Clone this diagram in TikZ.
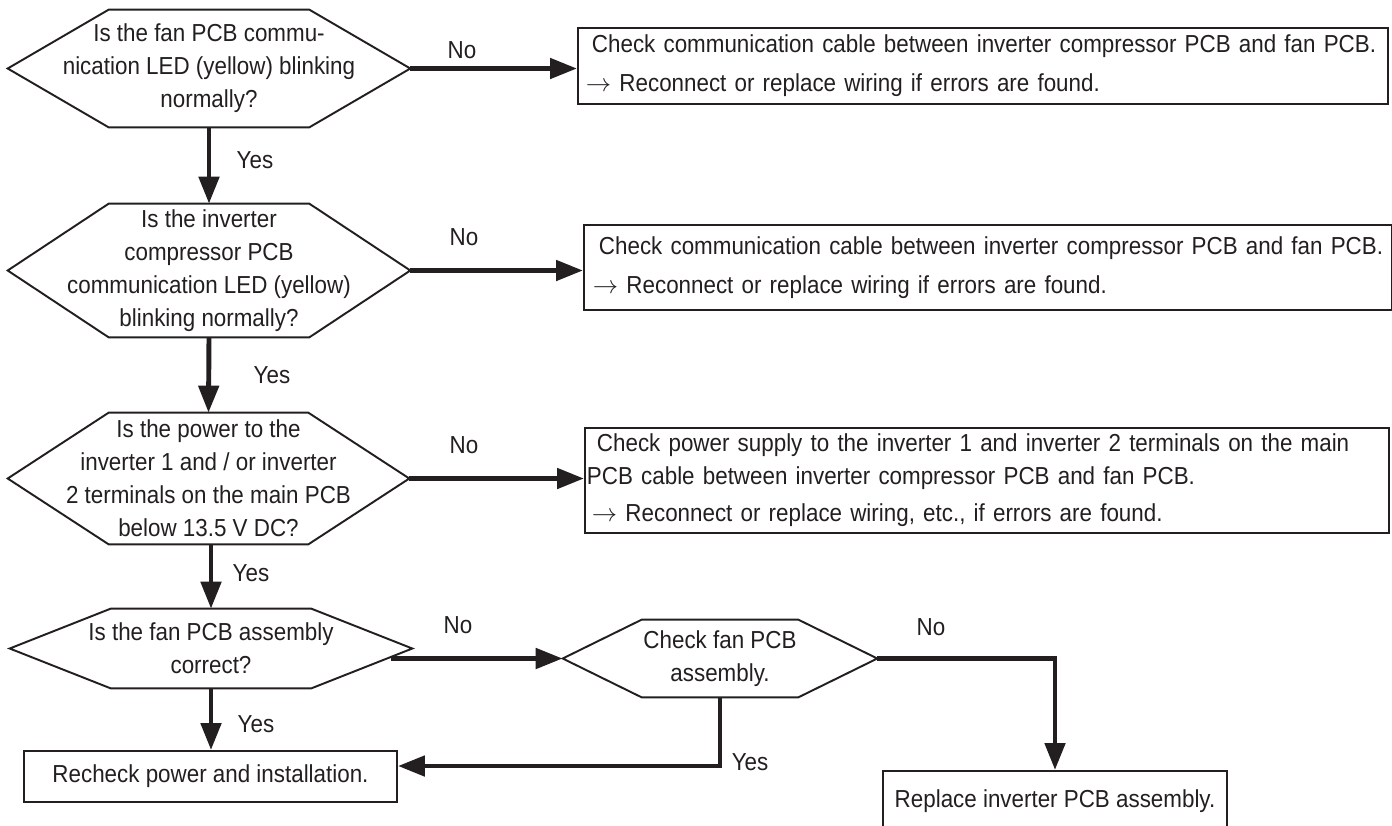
\documentclass[tikz,border=0pt]{standalone}
\usepackage{fontspec}
\setmainfont{Liberation Sans}[FakeStretch=0.91]
\usepackage{xcolor}
\usepackage{tikz}
\usetikzlibrary{arrows.meta,positioning,calc}
\definecolor{ink}{HTML}{231F20}

\begin{document}
\begin{tikzpicture}[
  x=0.02cm, y=-0.02cm,
  every node/.style={text=ink, font=\fontsize{14}{18.8}\selectfont},
  dec/.style={inner sep=0pt, align=center},
  box/.style={draw=ink, line width=1.1pt, inner xsep=0.04cm, inner ysep=0pt, align=left},
  hexline/.style={draw=ink, line width=1.1pt, line join=miter},
  arr/.style={-{Triangle[length=0.54cm, width=0.4cm]}, line width=2.8pt, draw=ink},
  lbl/.style={inner sep=0pt}
]

\useasboundingbox (0,0) rectangle (1392,825);

\node[dec, minimum width=8.04cm, minimum height=2.34cm] (q1) at (209,68.5) {Is the fan PCB commu-\\nication LED (yellow) blinking\\normally?};
\node[dec, minimum width=8.04cm, minimum height=2.66cm] (q2) at (209,270.5) {Is the inverter\\compressor PCB\\communication LED (yellow)\\blinking normally?};
\node[dec, minimum width=8.02cm, minimum height=2.62cm] (q3) at (208.5,478.5) {Is the power to the\\inverter 1 and / or inverter\\2 terminals on the main PCB\\below 13.5 V DC?};
\node[dec, minimum width=8.04cm, minimum height=1.58cm] (q4) at (211,648.5) {Is the fan PCB assembly\\correct?};
\node[dec, minimum width=6.28cm, minimum height=1.54cm] (q5) at (720,658.5) {Check fan PCB\\assembly.};

\node[box, text width=16.12cm, minimum height=1.52cm, anchor=north west] (b1) at (577,27) {\hspace*{0.24cm}Check communication cable between inverter compressor PCB and fan PCB.\\[3.4pt]\hspace*{0.12cm}$\rightarrow$ Reconnect or replace wiring if errors are found.};
\node[box, text width=16.08cm, minimum height=1.7cm, anchor=north west] (b2) at (583,224) {\hspace*{0.26cm}Check communication cable between inverter compressor PCB and fan PCB.\\[3.4pt]\hspace*{0.14cm}$\rightarrow$ Reconnect or replace wiring if errors are found.};
\node[box, text width=16.0cm, minimum height=2.1cm, anchor=north west] (b3) at (584,427) {\hspace*{0.2cm}Check power supply to the inverter 1 and inverter 2 terminals on the main\\PCB cable between inverter compressor PCB and fan PCB.\\[2.3pt]\hspace*{0.1cm}$\rightarrow$ Reconnect or replace wiring, etc., if errors are found.};
\node[box, minimum width=7.46cm, minimum height=1.02cm] (rchk) at (210.5,776.5) {Recheck power and installation.};
\node[box, minimum width=6.88cm, minimum height=1.2cm, anchor=north] (rpl) at (1055,770) {Replace inverter PCB assembly.};

\foreach \n/\d in {q1/2.02cm, q2/2.02cm, q3/2.02cm, q4/2.02cm, q5/1.58cm}
  \draw[hexline] (\n.west) -- ([xshift=\d]\n.north west) -- ([xshift=-\d]\n.north east) -- (\n.east) -- ([xshift=-\d]\n.south east) -- ([xshift=\d]\n.south west) -- cycle;

\draw[arr] (q1.east) -- (q1.east -| b1.west);
\draw[arr] (q1.south) -- (q2.north);
\draw[arr] (q2.east) -- (q2.east -| b2.west);
\draw[arr] (q2.south) -- (q3.north);
\draw[arr] (q3.east) -- (q3.east -| b3.west);
\draw[arr] (q3.south -| q4.north) -- (q4.north);
\draw[arr] (q4.south) -- (q4.south |- rchk.north);
\path ([shift={(-21,8)}]q4.east) coordinate (q4out);
\draw[arr] (q5.west -| q4out) -- (q5.west);
\draw[arr] (q5.east) -| (rpl.north);
\draw[arr] (q5.south) |- ([yshift=0.21cm]rchk.east);

\node[lbl] (no1) at (462,50) {No};
\node[lbl] (yes1) at (255,160) {Yes};
\node[lbl] (no2) at (464,237) {No};
\node[lbl] (yes2) at (272,375) {Yes};
\node[lbl] (no3) at (464,445) {No};
\node[lbl] (yes3) at (251,573) {Yes};
\node[lbl] (no4) at (458,625) {No};
\node[lbl] (yes4) at (256,724) {Yes};
\node[lbl] (no5) at (931,627) {No};
\node[lbl] (yes5) at (750,762) {Yes};

\end{tikzpicture}
\end{document}
